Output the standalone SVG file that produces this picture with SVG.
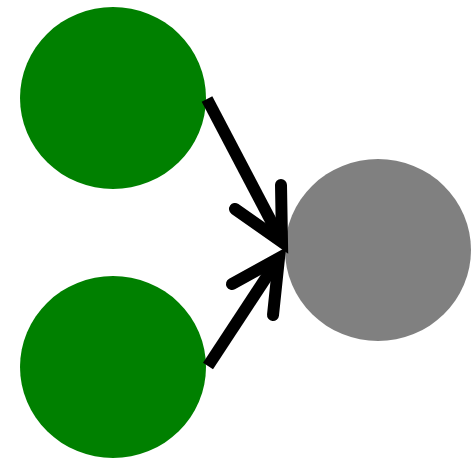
<svg xmlns="http://www.w3.org/2000/svg" width="472" height="461" viewBox="0 0 472 461">
<style>
.src{fill:#008000}
.dst{fill:#808080}
.ln{fill:none;stroke:#000;stroke-width:12}
.hd{fill:none;stroke:#000;stroke-width:12;stroke-linecap:round;stroke-linejoin:miter;stroke-miterlimit:10}
</style>
<rect width="472" height="461" fill="#fff"/>
<g id="node-a"><ellipse class="src" cx="113" cy="98" rx="93" ry="91"/></g>
<g id="node-b"><ellipse class="src" cx="113" cy="367" rx="93" ry="91"/></g>
<g id="node-c"><ellipse class="dst" cx="378" cy="250" rx="93" ry="91"/></g>
<g id="connectors">
<path class="ln" d="M207,99 L282,242"/>
<path class="hd" d="M281,185 L282,242 L235,209"/>
<path class="ln" d="M208,366 L279,258"/>
<path class="hd" d="M273,315 L279,258 L232,284"/>
</g>
</svg>
